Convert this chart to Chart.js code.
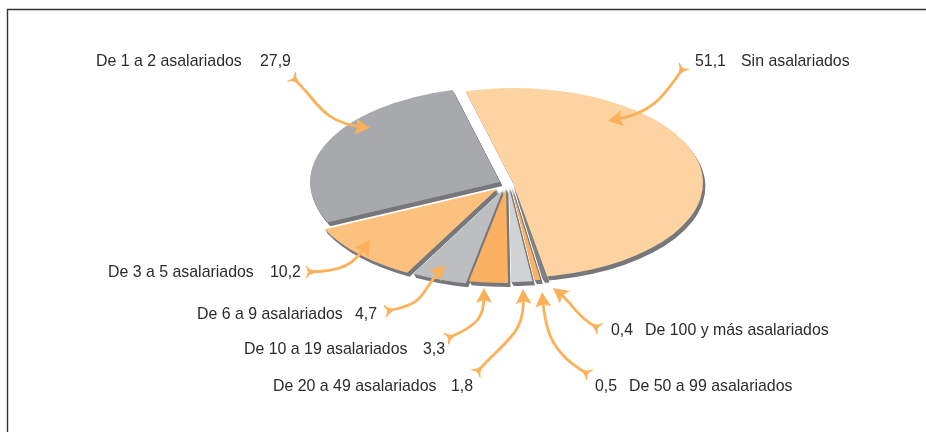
<!DOCTYPE html>
<html>
<head>
<meta charset="utf-8">
<style>
html, body { margin: 0; padding: 0; background: #fff; overflow: hidden; }
#wrap { width: 926px; height: 432px; }
</style>
<script src="https://cdn.jsdelivr.net/npm/chart.js@4"></script>
</head>
<body>
<div id="wrap"><canvas id="miGrafico" width="926" height="432"></canvas></div>
<script>
// DATOS
const categorias = ['Sin asalariados', 'De 100 y más asalariados', 'De 50 a 99 asalariados', 'De 20 a 49 asalariados', 'De 10 a 19 asalariados', 'De 6 a 9 asalariados', 'De 3 a 5 asalariados', 'De 1 a 2 asalariados'];
const valores = [51.1, 0.4, 0.5, 1.8, 3.3, 4.7, 10.2, 27.9];
const valoresTexto = ['51,1', '0,4', '0,5', '1,8', '3,3', '4,7', '10,2', '27,9'];

// ESTILO
const colores = ['#fcd3a1', '#808285', '#fbb161', '#d1d3d4', '#fbb161', '#bcbec0', '#fdc17f', '#a7a9ac'];
const colorCanto = '#77787b';
const colorFlecha = '#fbb05a';
const colorTexto = '#2b2b2b';
const achatado = 0.5;
const grosor = 4;
// separacion de cada porcion, en px de pantalla
const separacion = [[6, -1], [6, 1], [4, 2], [2, 3], [-1, 4], [-4, 6], [-10, 5], [-7, -2]];

// x del texto, x del numero, y central (mismo orden que categorias)
const posTexto = [[741, 695, 62], [645, 611, 331], [629, 595, 387], [273, 451, 387], [244, 423, 350], [197, 355, 315], [108, 270, 273], [96, 260, 62]];

// flechas: cola, control 1, control 2, punta
const flechas = [
  [683, 68, 662, 100, 650, 113, 608, 121],
  [598, 328, 578, 318, 572, 303, 553, 288],
  [588, 374, 548, 352, 545, 325, 542, 292],
  [477, 372, 505, 340, 525, 335, 523, 289],
  [448, 338, 480, 325, 484, 315, 484, 288],
  [387, 311, 428, 303, 418, 295, 445, 265],
  [308, 272, 345, 272, 355, 262, 370, 240],
  [293, 78, 318, 100, 320, 122, 370, 128]
];

function dibujarFlecha(c, f) {
  const ang = Math.atan2(f[7] - f[5], f[6] - f[4]);
  const angCola = Math.atan2(f[3] - f[1], f[2] - f[0]);
  c.strokeStyle = colorFlecha;
  c.fillStyle = colorFlecha;
  c.lineWidth = 2.8;
  c.beginPath();
  c.moveTo(f[0], f[1]);
  c.bezierCurveTo(f[2], f[3], f[4], f[5], f[6] - 8 * Math.cos(ang), f[7] - 8 * Math.sin(ang));
  c.stroke();
  // punta
  c.save();
  c.translate(f[6], f[7]);
  c.rotate(ang);
  c.beginPath();
  c.moveTo(0, 0);
  c.lineTo(-15, -8);
  c.lineTo(-12, 0);
  c.lineTo(-15, 8);
  c.closePath();
  c.fill();
  c.restore();
  // cola
  c.save();
  c.translate(f[0], f[1]);
  c.rotate(angCola);
  c.beginPath();
  c.moveTo(-2, -6);
  c.quadraticCurveTo(1, -2, 5, -1);
  c.lineTo(5, 1);
  c.quadraticCurveTo(1, 2, -2, 6);
  c.lineTo(1, 0);
  c.closePath();
  c.lineWidth = 1;
  c.fill();
  c.stroke();
  c.restore();
}

const pieAchatado = {
  id: 'pieAchatado',
  beforeDatasetsDraw(chart) {
    const c = chart.ctx;
    const arcos = chart.getDatasetMeta(0).data;
    const cy = arcos[0].y;
    const pintar = (arco, i, extra) => {
      c.save();
      c.translate(separacion[i][0] + extra * 0.6, separacion[i][1] + extra);
      c.translate(0, cy);
      c.scale(1, achatado);
      c.translate(0, -cy);
      arco.draw(c);
      c.restore();
    };
    // canto primero
    arcos.forEach((arco, i) => {
      const original = arco.options;
      arco.options = { ...original, backgroundColor: colorCanto };
      for (let k = grosor; k > 0; k--) pintar(arco, i, k);
      arco.options = original;
    });
    // cara superior
    arcos.forEach((arco, i) => pintar(arco, i, 0));
    return false;
  },
  afterDraw(chart) {
    const c = chart.ctx;
    c.save();
    // marco
    c.strokeStyle = '#333';
    c.lineWidth = 1.4;
    c.beginPath();
    c.moveTo(7.5, 432);
    c.lineTo(7.5, 9.5);
    c.lineTo(926, 9.5);
    c.stroke();
    flechas.forEach(f => dibujarFlecha(c, f));
    c.fillStyle = colorTexto;
    c.font = '15.9px "Liberation Sans"';
    c.textBaseline = 'middle';
    categorias.forEach((cat, i) => {
      c.fillText(cat, posTexto[i][0], posTexto[i][2]);
      c.fillText(valoresTexto[i], posTexto[i][1], posTexto[i][2]);
    });
    c.restore();
  }
};

new Chart(document.getElementById('miGrafico'), {
  type: 'pie',
  data: {
    labels: categorias,
    datasets: [{
      data: valores,
      backgroundColor: colores,
      borderWidth: 0,
      radius: 190
    }]
  },
  options: {
    responsive: false,
    animation: false,
    events: [],
    rotation: -14.5,
    layout: { padding: { left: 88, bottom: 64 } },
    plugins: { legend: { display: false }, tooltip: { enabled: false } }
  },
  plugins: [pieAchatado]
});
</script>
</body>
</html>
